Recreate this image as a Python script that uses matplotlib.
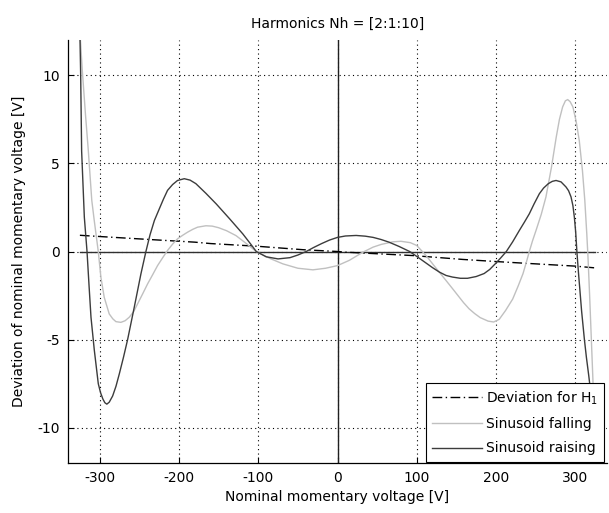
import matplotlib
matplotlib.use("Agg")
import matplotlib.pyplot as plt

plt.rcParams['font.family'] = ['DejaVu Sans']
plt.rcParams['mathtext.default'] = 'regular'
plt.rcParams['axes.unicode_minus'] = False

title = "Harmonics Nh = [2:1:10]"
xlabel = "Nominal momentary voltage [V]"
ylabel = "Deviation of nominal momentary voltage [V]"
labels = ["Deviation for H$_1$", "Sinusoid falling", "Sinusoid raising"]
xticks = [-300, -200, -100, 0, 100, 200, 300]
yticks = [-10, -5, 0, 5, 10]

# Deviation for H1 (dash-dot)
h1_x = [-325, -300, -237, -180, -160, -102, -43, 0, 11, 95, 158, 200, 234, 300, 325]
h1_y = [0.92, 0.85, 0.68, 0.53, 0.45, 0.30, 0.10, 0.0, -0.04, -0.23, -0.45, -0.57, -0.66, -0.83, -0.93]

# Sinusoid falling (light gray)
fall_x = [-325, -322, -318, -314.4, -310, -307, -304.7, -301.8, -298.5, -294.3, -288, -283.5,
          -279.5, -273.3, -268, -262.7, -257, -252.2, -246, -239.6, -233, -227, -220.5, -214.4,
          -208, -201.8, -195, -189, -182.5, -176.5, -166, -158, -150, -140, -128, -115, -102.5,
          -85, -69, -50, -31, -15, 0, 15, 32, 45, 55, 70, 80, 92, 100, 107, 113, 120, 128, 137,
          145, 152, 159, 166, 173, 180, 190, 197, 204, 212, 221, 228, 234, 238, 242, 246, 250.5,
          257, 263, 270, 276, 280, 284, 287.5, 290.4, 293.5, 297, 301, 305, 309, 312, 314.5, 316,
          318, 320, 322, 325]
fall_y = [12.5, 10.3, 7.8, 5.74, 2.9, 1.8, 1.0, 0.0, -1.46, -2.6, -3.54, -3.82,
          -3.98, -4.02, -3.93, -3.73, -3.4, -2.97, -2.42, -1.84, -1.3, -0.8, -0.35, 0.06,
          0.42, 0.72, 0.93, 1.1, 1.26, 1.38, 1.46, 1.44, 1.35, 1.18, 0.9, 0.45, 0.0,
          -0.4, -0.7, -0.95, -1.04, -0.95, -0.8, -0.5, -0.04, 0.25, 0.4, 0.55, 0.58, 0.5, 0.34, 0.0,
          -0.3, -0.7, -1.15, -1.65, -2.1, -2.5, -2.9, -3.25, -3.52, -3.75, -3.95, -4.0, -3.85, -3.35,
          -2.7, -1.95, -1.26, -0.65, 0.0, 0.6, 1.2, 2.1, 3.1, 4.8, 6.5, 7.5, 8.2, 8.55, 8.62, 8.5,
          8.2, 7.4, 6.3, 4.6, 2.9, 1.0, -0.3, -2.4, -4.7, -7.0, -10.8]

# Sinusoid raising (dark gray)
rise_x = [-325, -324, -322.8, -319.4, -316, -313.5, -311, -306.8, -301.8, -299, -296, -293.5,
          -291, -288, -283.7, -279.5, -275.3, -270, -264.8, -256.4, -248, -241.7, -236.5, -231,
          -224.8, -219.5, -214.4, -208, -201.8, -193.3, -186, -178.7, -166, -153, -136, -119.5,
          -110, -102.5, -90, -75, -60, -50, -39.5, -30, -20, -10, 0, 10, 23.5, 35, 45, 55, 65, 78,
          91, 100, 110, 120, 128.6, 137, 145, 155, 164, 175, 185, 192, 199, 206, 213, 221, 229.5,
          236, 242, 248, 254.7, 260, 266, 271, 275.7, 282, 288.3, 291.5, 294.6, 297, 298.8, 300.5,
          302, 304, 308, 311.5, 314, 317, 321, 325]
rise_y = [12.4, 10.0, 5.7, 1.95, 0.0, -1.9, -3.73, -5.6, -7.5, -8.0, -8.37, -8.58,
          -8.66, -8.55, -8.2, -7.65, -6.95, -6.0, -5.0, -3.16, -1.27, 0.0, 0.95, 1.76,
          2.42, 2.98, 3.47, 3.8, 4.03, 4.13, 4.05, 3.85, 3.3, 2.7, 1.85, 1.0,
          0.45, 0.0, -0.3, -0.42, -0.35, -0.2, 0.0, 0.23, 0.45, 0.65, 0.8, 0.88, 0.91, 0.87, 0.8, 0.68,
          0.53, 0.28, 0.0, -0.28, -0.6, -0.92, -1.17, -1.36, -1.45, -1.52, -1.52, -1.42, -1.25, -1.02,
          -0.7, -0.36, 0.0, 0.55, 1.2, 1.68, 2.14, 2.7, 3.28, 3.6, 3.85, 3.98, 4.03, 3.95, 3.66, 3.45,
          3.1, 2.6, 1.95, 1.1, 0.0, -1.2, -3.4, -5.0, -6.0, -7.05, -8.6, -10.5]

fig = plt.figure(figsize=(6.09, 5.13), dpi=100)
ax = fig.add_axes([68/609, 1-463/513, (607-68)/609, (463-40)/513])

ax.set_xlim(-340, 340)
ax.set_ylim(-12, 12)
ax.set_xticks(xticks)
ax.set_yticks(yticks)
ax.grid(True, color='black', linestyle=(0, (1, 3)), linewidth=0.8)
ax.set_axisbelow(True)

ax.axvline(0, color='#202020', linewidth=1.0, zorder=2)
ax.plot([min(rise_x), max(rise_x)], [0, 0], color='#303030', linewidth=1.0, zorder=2)

l1, = ax.plot(h1_x, h1_y, color='black', linewidth=1.0, linestyle=(0, (7, 2.5, 1, 2.5)), zorder=3)
l2, = ax.plot(fall_x, fall_y, color='#c0c0c0', linewidth=1.0, zorder=3)
l3, = ax.plot(rise_x, rise_y, color='#3c3c3c', linewidth=1.0, zorder=4)

for s in ['top', 'right']:
    ax.spines[s].set_visible(False)
for s in ['left', 'bottom']:
    ax.spines[s].set_color('black')
    ax.spines[s].set_linewidth(0.9)
ax.tick_params(direction='in', length=4, width=0.8, labelsize=10, colors='black', pad=6)

ax.set_title(title, fontsize=10, pad=9)
ax.set_xlabel(xlabel, fontsize=10, labelpad=3)
ax.set_ylabel(ylabel, fontsize=10, labelpad=8)

leg = ax.legend([l1, l2, l3], labels, loc='lower right', bbox_to_anchor=(0.995, 0.003),
                fontsize=10, frameon=True, fancybox=False, framealpha=1.0,
                edgecolor='black', handlelength=3.6, handletextpad=0.3,
                labelspacing=0.75, borderpad=0.45, borderaxespad=0.0)
leg.get_frame().set_linewidth(0.8)
leg.set_zorder(10)

fig.savefig("out.png", dpi=100)
